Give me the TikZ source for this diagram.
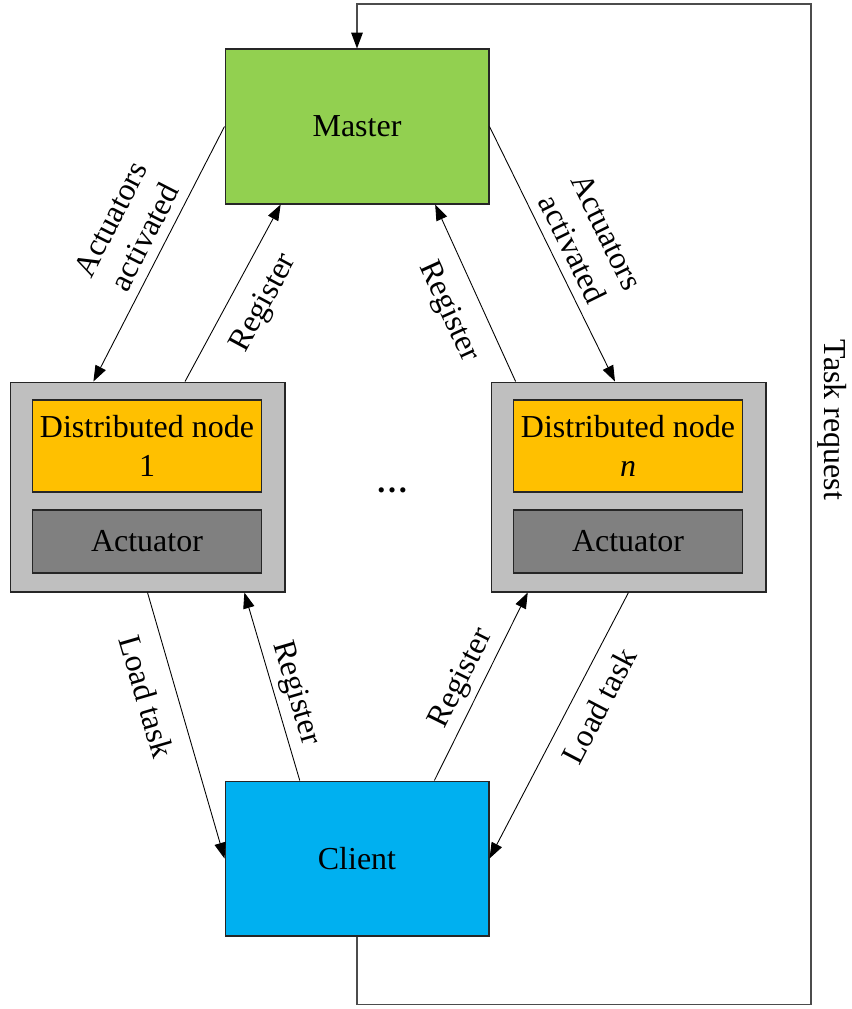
\documentclass[tikz,border=0pt]{standalone}
\usepackage{fontspec}
\setmainfont{Liberation Serif}
\usetikzlibrary{arrows.meta,calc}
\definecolor{mastergreen}{HTML}{92D050}
\definecolor{clientblue}{HTML}{00B0F0}
\definecolor{nodeorange}{HTML}{FFC000}
\definecolor{framegray}{HTML}{BFBFBF}
\definecolor{actgray}{HTML}{808080}
\begin{document}
\begin{tikzpicture}[x=0.02cm, y=-0.02cm, font=\fontsize{18.2}{21.8}\selectfont,
  box/.style={draw=black!85, line width=0.6pt},
  arr/.style={-{Triangle[length=9pt,width=6.5pt,color=black]}, line width=0.5pt},
  lbl/.style={sloped, align=center}]
\useasboundingbox (0,0) rectangle (852,1009);
% main boxes
\node (master) [box, fill=mastergreen, minimum width=5.28cm, minimum height=3.1cm] at (357,126.5) {Master};
\node (client) [box, fill=clientblue, minimum width=5.28cm, minimum height=3.1cm] at (357,858.5) {Client};
% distributed node 1
\node (dn1) [box, fill=framegray, minimum width=5.5cm, minimum height=4.2cm] at (147.5,487) {};
\node (dn1name) [box, fill=nodeorange, minimum width=4.58cm, minimum height=1.84cm, align=center] at (147,446) {Distributed node\\1};
\node (dn1act) [box, fill=actgray, minimum width=4.58cm, minimum height=1.26cm] at (147,541.5) {Actuator};
% distributed node n
\node (dnn) [box, fill=framegray, minimum width=5.5cm, minimum height=4.2cm] at (628.5,487) {};
\node (dnnname) [box, fill=nodeorange, minimum width=4.58cm, minimum height=1.84cm, align=center] at (628,446) {Distributed node\\\textit{n}};
\node (dnnact) [box, fill=actgray, minimum width=4.58cm, minimum height=1.26cm] at (628,541.5) {Actuator};
\node (dots) at (392,490) {\textbf{\dots}};
% master <-> nodes
\draw[arr] (master.west) -- node[lbl, above=2pt, pos=0.47] {Actuators\\activated} ($(dn1.north west)!0.304!(dn1.north east)$);
\draw[arr] ($(dn1.north west)!0.636!(dn1.north east)$) -- node[lbl, below=7pt, pos=0.53] {Register} ($(master.south west)!0.212!(master.south east)$);
\draw[arr] ($(dnn.north west)!0.091!(dnn.north east)$) -- node[lbl, below=7pt, pos=0.47] {Register} ($(master.south west)!0.795!(master.south east)$);
\draw[arr] (master.east) -- node[lbl, above=2pt, pos=0.516] {Actuators\\activated} ($(dnn.north west)!0.451!(dnn.north east)$);
% nodes <-> client
\draw[arr] (dn1.south) -- node[lbl, below=7pt, pos=0.36] {Load task} (client.west);
\draw[arr] ($(client.north west)!0.284!(client.north east)$) -- node[lbl, above, pos=0.434] {Register} ($(dn1.south west)!0.851!(dn1.south east)$);
\draw[arr] ($(client.north west)!0.792!(client.north east)$) -- node[lbl, above, pos=0.494] {Register} ($(dnn.south west)!0.135!(dnn.south east)$);
\draw[arr] (dnn.south) -- node[lbl, below=5pt, pos=0.38] {Load task} (client.east);
% task request loop
\draw[arr, draw=black!70, line width=0.8pt] (client.south) -- ++(0,68) -| (811,4) -| (master.north);
\node (taskreq) [rotate=-90] at (832,420) {Task request};
\end{tikzpicture}
\end{document}
